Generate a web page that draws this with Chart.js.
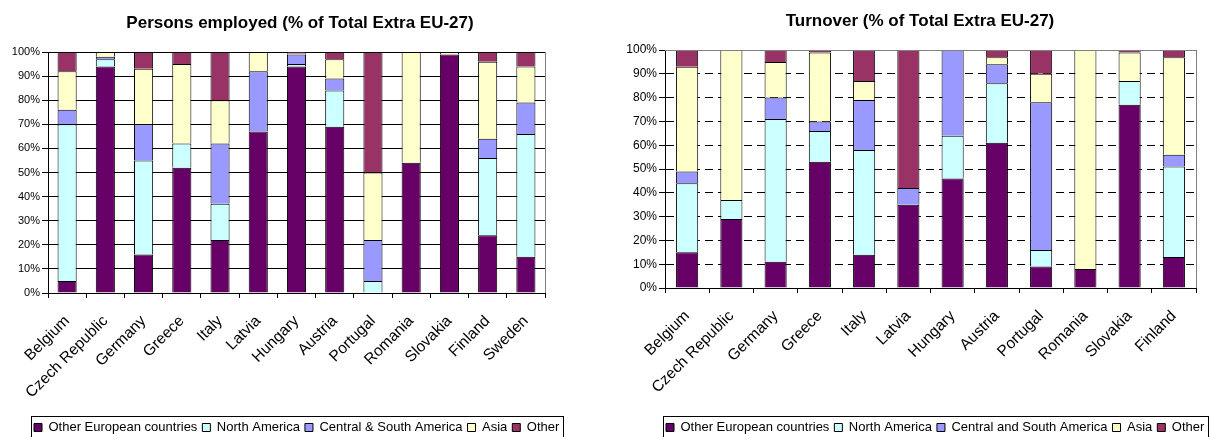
<!DOCTYPE html>
<html>
<head>
<meta charset="utf-8">
<title>Extra EU-27 enterprises</title>
<script src="https://cdn.jsdelivr.net/npm/chart.js@4.4.1/dist/chart.umd.min.js"></script>
<style>
  html, body { margin: 0; padding: 0; background: #fff; }
  #wrap { position: relative; width: 1211px; height: 437px; overflow: hidden; }
  .panel { position: absolute; top: 0; }
  #employedPanel { left: 0; }
  #turnoverPanel { left: 600px; }
</style>
</head>
<body>
<div id="wrap">
  <div class="panel" id="employedPanel"><canvas id="employedChart" width="600" height="437"></canvas></div>
  <div class="panel" id="turnoverPanel"><canvas id="turnoverChart" width="611" height="437"></canvas></div>
</div>
<script>
// ─────────────────────────────
// Data
// ─────────────────────────────
const regionColours = ['#660066', '#CCFFFF', '#9999FF', '#FFFFCC', '#993366'];

const employedRegions = ['Other European countries', 'North America', 'Central & South America', 'Asia', 'Other'];
const employedCountries = ['Belgium', 'Czech Republic', 'Germany', 'Greece', 'Italy', 'Latvia', 'Hungary',
  'Austria', 'Portugal', 'Romania', 'Slovakia', 'Finland', 'Sweden'];
const employedOtherEurope = [5, 94, 16, 52, 22, 67, 94, 69, 0, 54, 99, 24, 15];
const employedNorthAmerica = [65, 3, 39, 10, 15, 0, 1, 15, 5, 0, 0, 32, 51];
const employedSouthAmerica = [6, 1, 15, 0, 25, 25, 4, 5, 17, 0, 0, 8, 13];
const employedAsia = [16, 2, 23, 33, 18, 8, 0.5, 8, 28, 46, 1, 32, 15];
const employedOther = [8, 0, 7, 5, 20, 0, 0.5, 3, 50, 0, 0, 4, 6];

const turnoverRegions = ['Other European countries', 'North America', 'Central and South America', 'Asia', 'Other'];
const turnoverCountries = ['Belgium', 'Czech Republic', 'Germany', 'Greece', 'Italy', 'Latvia', 'Hungary',
  'Austria', 'Portugal', 'Romania', 'Slovakia', 'Finland'];
const turnoverOtherEurope = [15, 29, 11, 53, 14, 35, 46, 61, 9, 8, 77, 13];
const turnoverNorthAmerica = [29, 8, 60, 13, 44, 0, 18, 25, 7, 0, 10, 38];
const turnoverSouthAmerica = [5, 0, 9, 4, 21, 7, 36, 8, 62, 0, 0, 5];
const turnoverAsia = [44, 63, 15, 29, 8, 0, 0, 3, 12, 92, 12, 41];
const turnoverOther = [7, 0, 5, 1, 13, 58, 0, 3, 10, 0, 1, 3];

const FONT = '"Liberation Sans", Arial, sans-serif';

// ─────────────────────────────
// Title / legend placement + frames
// ─────────────────────────────
const panelFrame = {
  id: 'panelFrame',
  afterLayout(chart, args, opts) {
    const t = chart.titleBlock;
    const tw = t.right - t.left;
    t.left = opts.titleX - tw / 2;
    t.right = t.left + tw;

    const lg = chart.legend;
    const lw = lg.width, lh = lg.height;
    lg.left = opts.legendX;
    lg.right = lg.left + lw;
    lg.top = opts.legendY;
    lg.bottom = lg.top + lh;
  },
  afterDraw(chart, args, opts) {
    const ctx = chart.ctx;
    const a = chart.chartArea;
    ctx.save();

    // grey edge of the plot area
    ctx.strokeStyle = '#808080';
    ctx.lineWidth = 1;
    ctx.beginPath();
    if (opts.greyTop) {
      ctx.moveTo(a.left, Math.round(a.top) + 0.5);
      ctx.lineTo(Math.round(a.right) + 0.5, Math.round(a.top) + 0.5);
    }
    ctx.moveTo(Math.round(a.right) + 0.5, a.top);
    ctx.lineTo(Math.round(a.right) + 0.5, a.bottom);
    ctx.stroke();

    // box round the legend
    const boxes = chart.legend.legendHitBoxes;
    const l = Math.min(...boxes.map(b => b.left)) - 3;
    const r = Math.max(...boxes.map(b => b.left + b.width)) + 4;
    ctx.strokeStyle = '#000';
    ctx.strokeRect(Math.round(l) + 0.5, opts.frameTop + 0.5, Math.round(r - l), 40);
    ctx.restore();
  }
};

function buildDatasets(names, series) {
  return series.map((data, i) => ({
    label: names[i],
    data: data,
    backgroundColor: regionColours[i],
    borderColor: '#000',
    borderWidth: 1,
    barPercentage: 0.5,
    categoryPercentage: 1
  }));
}

function buildOptions(p) {
  return {
    responsive: false,
    animation: false,
    events: [],
    layout: { padding: { left: 0, right: p.padRight, top: 0, bottom: 0 } },
    plugins: {
      title: {
        display: true,
        text: p.title,
        color: '#000',
        font: { family: FONT, size: 17, weight: 'bold', lineHeight: 1.2 },
        padding: { top: p.titleTop, bottom: p.plotTop - p.titleTop - 20.4 }
      },
      legend: {
        position: 'bottom',
        align: 'start',
        labels: {
          boxWidth: 8,
          boxHeight: 8,
          padding: 5,
          color: '#000',
          font: { family: FONT, size: 13 }
        }
      },
      tooltip: { enabled: false },
      panelFrame: {
        titleX: p.titleX,
        legendX: p.legendX,
        legendY: p.legendY,
        frameTop: p.frameTop,
        greyTop: p.greyTop
      }
    },
    scales: {
      x: {
        stacked: true,
        grid: { drawOnChartArea: false, tickLength: 5, color: '#000', tickColor: '#000' },
        border: { color: '#000' },
        ticks: {
          autoSkip: false,
          minRotation: 45,
          maxRotation: 45,
          padding: 14,
          color: '#000',
          font: { family: FONT, size: 15.5 }
        },
        afterFit: s => { s.height = 437 - p.plotBottom - s.chart.legend.height; }
      },
      y: {
        stacked: true,
        min: 0,
        max: 100,
        grid: {
          color: ctx => (p.greyTop && ctx.tick && ctx.tick.value === 100) ? 'rgba(0,0,0,0)' : '#000',
          tickColor: '#000',
          tickLength: 6
        },
        border: { color: '#000', dash: p.dash },
        ticks: {
          stepSize: 10,
          padding: 2,
          color: '#000',
          font: { family: FONT, size: p.tickSize },
          callback: v => v + '%'
        },
        afterFit: s => { s.width = p.plotLeft; }
      }
    }
  };
}

// ─────────────────────────────
// Persons employed
// ─────────────────────────────
new Chart(document.getElementById('employedChart'), {
  type: 'bar',
  data: {
    labels: employedCountries,
    datasets: buildDatasets(employedRegions, [employedOtherEurope, employedNorthAmerica,
      employedSouthAmerica, employedAsia, employedOther])
  },
  options: buildOptions({
    title: 'Persons employed (% of Total Extra EU-27)',
    titleX: 300, titleTop: 13,
    plotLeft: 48, plotTop: 52, plotBottom: 293, padRight: 55,
    legendX: 29, legendY: 416, frameTop: 416,
    greyTop: false, dash: [], tickSize: 11
  }),
  plugins: [panelFrame]
});

// ─────────────────────────────
// Turnover
// ─────────────────────────────
new Chart(document.getElementById('turnoverChart'), {
  type: 'bar',
  data: {
    labels: turnoverCountries,
    datasets: buildDatasets(turnoverRegions, [turnoverOtherEurope, turnoverNorthAmerica,
      turnoverSouthAmerica, turnoverAsia, turnoverOther])
  },
  options: buildOptions({
    title: 'Turnover (% of Total Extra EU-27)',
    titleX: 320, titleTop: 11,
    plotLeft: 65, plotTop: 50, plotBottom: 288, padRight: 15,
    legendX: 61, legendY: 416, frameTop: 416,
    greyTop: true, dash: [8, 5], tickSize: 12
  }),
  plugins: [panelFrame]
});
</script>
</body>
</html>
